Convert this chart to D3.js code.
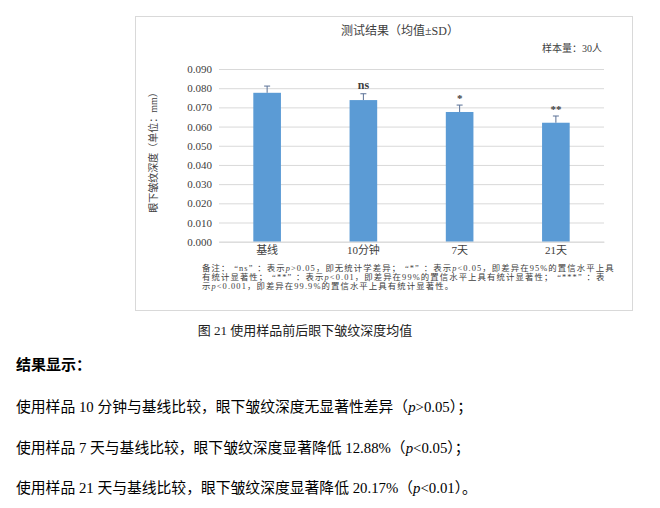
<!DOCTYPE html>
<html>
<head>
<meta charset="utf-8">
<script src="https://cdn.jsdelivr.net/npm/d3@7"></script>
<style>
  body { margin: 0; background: #fff; }
  svg { display: block; }
</style>
</head>
<body>
<div id="chart"></div>
<script>
// data
const categories = ["基线", "10分钟", "7天", "21天"];
const means = [0.0776, 0.0738, 0.0676, 0.0620];
const sds = [0.0035, 0.0033, 0.0036, 0.0035];
const marks = ["", "ns", "*", "**"];
const yTicks = [0, 0.01, 0.02, 0.03, 0.04, 0.05, 0.06, 0.07, 0.08, 0.09];

// text parts: [text, style] with 0 = plain, 1 = italic, 2 = open quote, 3 = close quote
const noteLines = [
    [["备注：", 0], ["“", 2], ["ns", 0], ["”", 3], ["：表示", 0], ["p", 1], [">0.05，即无统计学差异；", 0], ["“", 2], ["*", 0], ["”", 3], ["：表示", 0], ["p", 1], ["<0.05，即差异在95%的置信水平上具", 0]],
    [["有统计显著性；", 0], ["“", 2], ["**", 0], ["”", 3], ["：表示", 0], ["p", 1], ["<0.01，即差异在99%的置信水平上具有统计显著性；", 0], ["“", 2], ["***", 0], ["”", 3], ["：表", 0]],
    [["示", 0], ["p", 1], ["<0.001，即差异在99.9%的置信水平上具有统计显著性。", 0]]
];
const bodyLines = [
    [["使用样品 10 分钟与基线比较，眼下皱纹深度无显著性差异（", 0], ["p", 1], [">0.05）；", 0]],
    [["使用样品 7 天与基线比较，眼下皱纹深度显著降低 12.88%（", 0], ["p", 1], ["<0.05）；", 0]],
    [["使用样品 21 天与基线比较，眼下皱纹深度显著降低 20.17%（", 0], ["p", 1], ["<0.01）。", 0]]
];

const width = 660, height = 508;
const serif = '"Liberation Serif", "Noto Sans CJK SC", serif';

const svg = d3.select('#chart').append('svg')
    .attr('width', width)
    .attr('height', height)
    .style('font-family', serif);

// chart frame
svg.append('rect')
    .attr('x', 135.5).attr('y', 16.5)
    .attr('width', 497).attr('height', 294)
    .attr('fill', '#fff')
    .attr('stroke', '#d9d9d9');

const plot = { left: 219, right: 604, top: 69, bottom: 241.7 };

const x = d3.scaleBand()
    .domain(categories)
    .range([plot.left, plot.right]);

const y = d3.scaleLinear()
    .domain([0, 0.09])
    .range([plot.bottom, plot.top]);

const barW = x.bandwidth() * 0.287;

// y axis with gridlines
const yAxis = svg.append('g')
    .attr('transform', `translate(${plot.left},0)`)
    .call(d3.axisLeft(y)
        .tickValues(yTicks)
        .tickFormat(d3.format('.3f'))
        .tickSize(-(plot.right - plot.left))
        .tickPadding(7));
yAxis.select('.domain').remove();
yAxis.selectAll('.tick line').attr('stroke', '#d9d9d9');
yAxis.selectAll('.tick text')
    .attr('fill', '#404040')
    .style('font-family', serif)
    .style('font-size', '11px');

// bars
svg.selectAll('rect.bar')
    .data(means)
    .join('rect')
    .attr('class', 'bar')
    .attr('x', (d, i) => x(categories[i]) + x.bandwidth() / 2 - barW / 2)
    .attr('y', d => y(d))
    .attr('width', barW)
    .attr('height', d => y(0) - y(d))
    .attr('fill', '#5b9bd5');

// error bars (upper only)
const err = svg.selectAll('g.err')
    .data(means)
    .join('g')
    .attr('class', 'err')
    .attr('stroke', '#5a7096')
    .attr('stroke-width', 1);
err.append('line')
    .attr('x1', (d, i) => x(categories[i]) + x.bandwidth() / 2)
    .attr('x2', (d, i) => x(categories[i]) + x.bandwidth() / 2)
    .attr('y1', d => y(d))
    .attr('y2', (d, i) => y(d + sds[i]));
err.append('line')
    .attr('x1', (d, i) => x(categories[i]) + x.bandwidth() / 2 - 3)
    .attr('x2', (d, i) => x(categories[i]) + x.bandwidth() / 2 + 3)
    .attr('y1', (d, i) => y(d + sds[i]))
    .attr('y2', (d, i) => y(d + sds[i]));

// significance marks
svg.selectAll('text.mark')
    .data(marks)
    .join('text')
    .attr('class', 'mark')
    .attr('x', (d, i) => x(categories[i]) + x.bandwidth() / 2)
    .attr('y', (d, i) => y(means[i] + sds[i]) - (d === 'ns' ? 5 : 3))
    .attr('text-anchor', 'middle')
    .attr('fill', '#404040')
    .style('font-size', d => d === 'ns' ? '12px' : '11px')
    .style('font-weight', 'bold')
    .text(d => d);

// x axis
const xAxis = svg.append('g')
    .attr('transform', `translate(0,${plot.bottom})`)
    .call(d3.axisBottom(x).tickSize(0).tickPadding(5));
xAxis.select('.domain').attr('stroke', '#d9d9d9');
xAxis.selectAll('.tick text')
    .attr('fill', '#404040')
    .style('font-family', serif)
    .style('font-size', '11px');

// titles
svg.append('text')
    .attr('x', 400).attr('y', 35)
    .attr('text-anchor', 'middle')
    .attr('fill', '#404040')
    .style('font-size', '12px')
    .text('测试结果（均值±SD）');

svg.append('text')
    .attr('x', 602).attr('y', 52)
    .attr('text-anchor', 'end')
    .attr('fill', '#404040')
    .style('font-size', '10px')
    .text('样本量：30人');

svg.append('text')
    .attr('transform', 'translate(157,150) rotate(-90)')
    .attr('text-anchor', 'middle')
    .attr('fill', '#404040')
    .style('font-size', '10px')
    .text('眼下皱纹深度（单位：mm）');

function richText(parent, parts, xPos, yPos, size, color, spacing) {
    const t = parent.append('text')
        .attr('x', xPos).attr('y', yPos)
        .attr('fill', color)
        .style('font-size', size + 'px')
        .style('letter-spacing', (spacing || 0) + 'px');
    parts.forEach(p => {
        const s = t.append('tspan')
            .style('font-style', p[1] === 1 ? 'italic' : 'normal')
            .text(p[0]);
        if (p[1] === 2) s.attr('dx', size * 0.45);
        if (p[1] === 3) s.style('letter-spacing', (size * 0.45 + (spacing || 0)) + 'px');
    });
    return t;
}

noteLines.forEach((line, i) => {
    richText(svg, line, 202, 271 + i * 9, 8.4, '#404040', 1.1);
});

svg.append('text')
    .attr('x', 305).attr('y', 335)
    .attr('text-anchor', 'middle')
    .attr('fill', '#222')
    .style('font-size', '13px')
    .text('图 21 使用样品前后眼下皱纹深度均值');

svg.append('text')
    .attr('x', 16).attr('y', 370)
    .attr('fill', '#000')
    .style('font-size', '15px')
    .style('font-weight', 'bold')
    .text('结果显示：');

bodyLines.forEach((line, i) => {
    richText(svg, line, 16, 412 + i * 40.7, 14.8, '#000');
});
</script>
</body>
</html>
